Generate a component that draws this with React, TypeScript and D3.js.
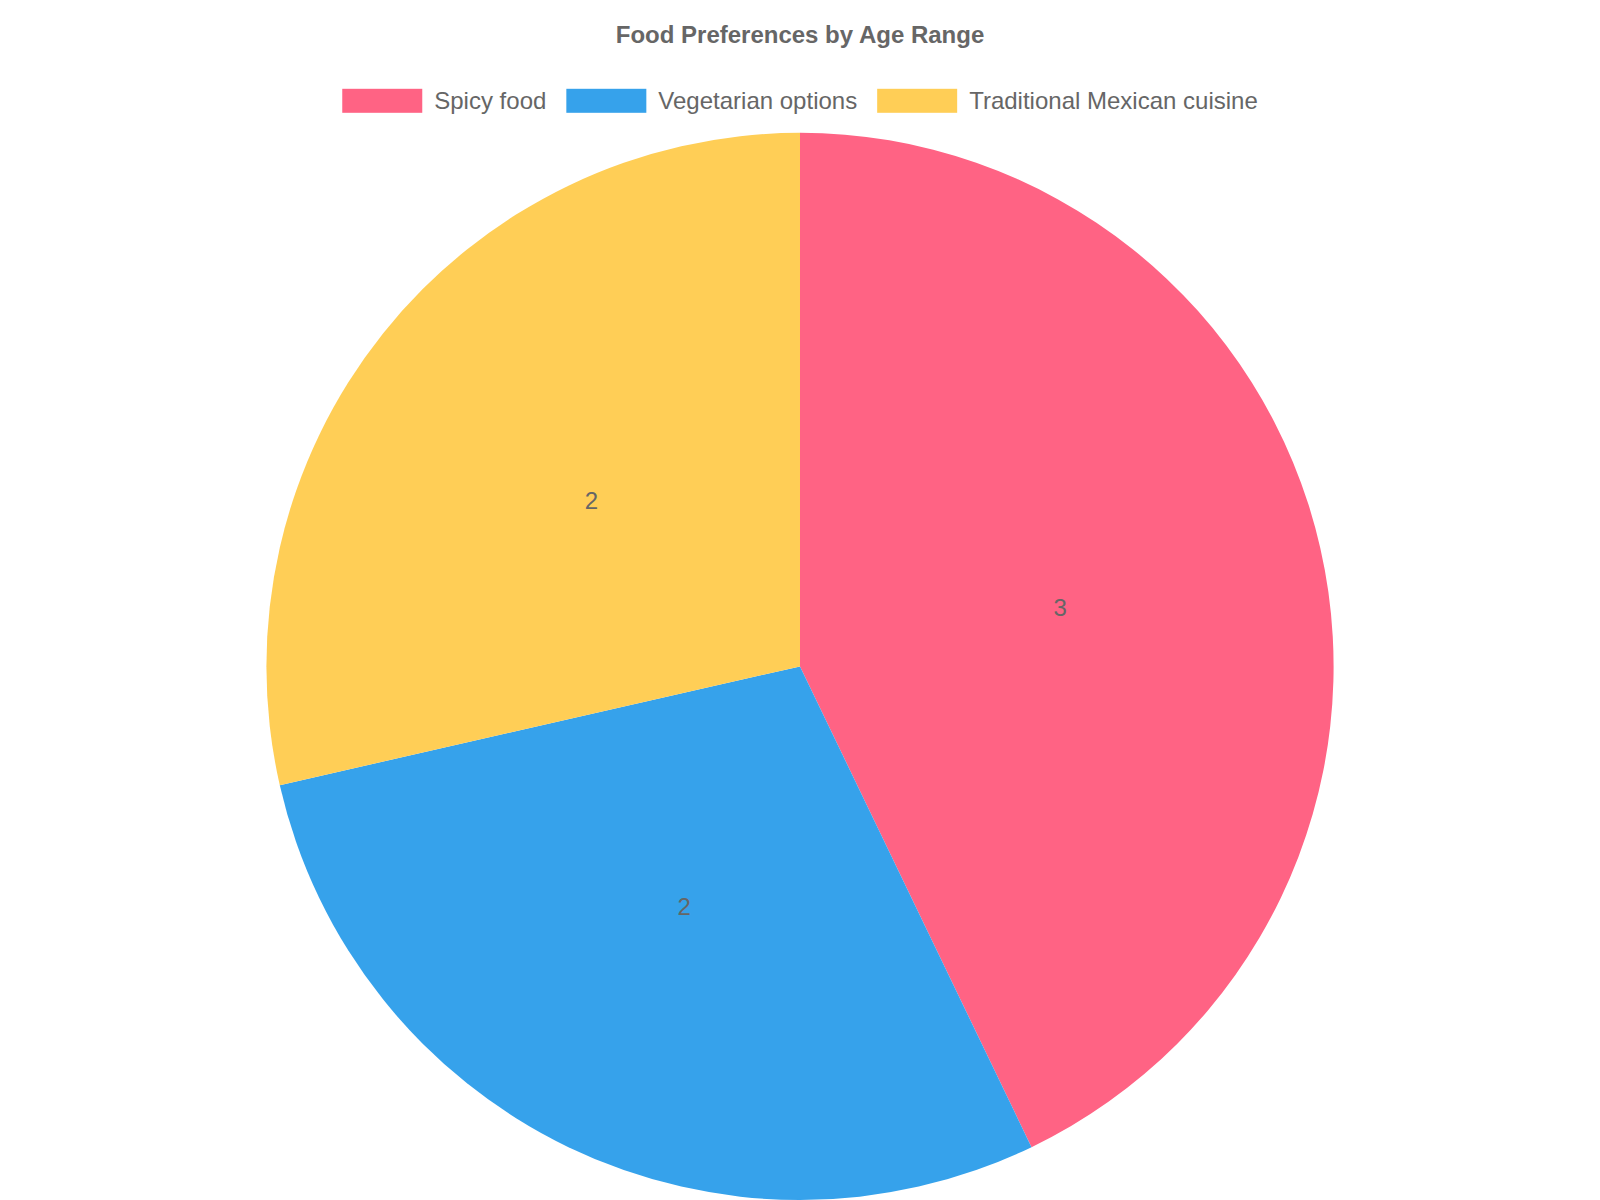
import { useEffect, useRef } from 'react';
import * as d3 from 'd3';

const CATEGORIES = ['Spicy food', 'Vegetarian options', 'Traditional Mexican cuisine'];
const VALUES = [3, 2, 2];
const COLORS = ['#FF6384', '#36A2EB', '#FFCE56'];
const TITLE = 'Food Preferences by Age Range';

const WIDTH = 1600;
const HEIGHT = 1200;
const FONT = '"Helvetica Neue", Helvetica, Arial, "Liberation Sans", sans-serif';

export default function App() {
  const svgRef = useRef<SVGSVGElement>(null);

  useEffect(() => {
    document.body.style.margin = '0';
    if (!svgRef.current) return;
    const svg = d3.select(svgRef.current);
    svg.selectAll('*').remove();

    svg.append('rect').attr('width', WIDTH).attr('height', HEIGHT).attr('fill', '#ffffff');

    // Title
    svg.append('text')
      .attr('x', WIDTH / 2)
      .attr('y', 34.4)
      .attr('text-anchor', 'middle')
      .attr('dominant-baseline', 'central')
      .attr('font-family', FONT)
      .attr('font-weight', 'bold')
      .attr('font-size', 24)
      .attr('fill', '#666')
      .text(TITLE);

    // Legend: measure first, then centre the row
    const legend = svg.append('g');
    const boxW = 80;
    const boxH = 24;
    const gap = 12;
    const spacing = 20;
    const legendY = 100.8;

    const items = legend.selectAll('g.item')
      .data(CATEGORIES)
      .join('g')
      .attr('class', 'item');

    items.append('rect')
      .attr('width', boxW)
      .attr('height', boxH)
      .attr('y', legendY - boxH / 2)
      .attr('fill', (_, i) => COLORS[i]);

    const labels = items.append('text')
      .attr('x', boxW + gap)
      .attr('y', legendY)
      .attr('dominant-baseline', 'central')
      .attr('font-family', FONT)
      .attr('font-size', 24)
      .attr('fill', '#666')
      .text(d => d);

    const widths: number[] = [];
    labels.each(function () {
      widths.push(boxW + gap + (this as SVGTextElement).getComputedTextLength());
    });
    const total = d3.sum(widths) + spacing * (widths.length - 1);
    let x = (WIDTH - total) / 2;
    items.attr('transform', (_, i) => {
      const t = `translate(${x},0)`;
      x += widths[i] + spacing;
      return t;
    });

    // Pie
    const top = 132.8;
    const areaH = HEIGHT - top;
    const radius = Math.min(WIDTH, areaH) / 2;
    const cx = WIDTH / 2;
    const cy = top + areaH / 2;

    const pie = d3.pie<number>().sort(null).value(d => d);
    const arcs = pie(VALUES);
    const arc = d3.arc<d3.PieArcDatum<number>>().innerRadius(0).outerRadius(radius);
    const labelArc = d3.arc<d3.PieArcDatum<number>>().innerRadius(radius / 2).outerRadius(radius / 2);

    const g = svg.append('g').attr('transform', `translate(${cx},${cy})`);

    g.selectAll('path')
      .data(arcs)
      .join('path')
      .attr('d', arc)
      .attr('fill', (_, i) => COLORS[i]);

    g.selectAll('text')
      .data(arcs)
      .join('text')
      .attr('transform', d => `translate(${labelArc.centroid(d)})`)
      .attr('text-anchor', 'middle')
      .attr('dominant-baseline', 'central')
      .attr('font-family', FONT)
      .attr('font-size', 24)
      .attr('fill', '#666')
      .text(d => String(d.data));
  }, []);

  return <svg ref={svgRef} width={WIDTH} height={HEIGHT} style={{ display: 'block' }} />;
}
